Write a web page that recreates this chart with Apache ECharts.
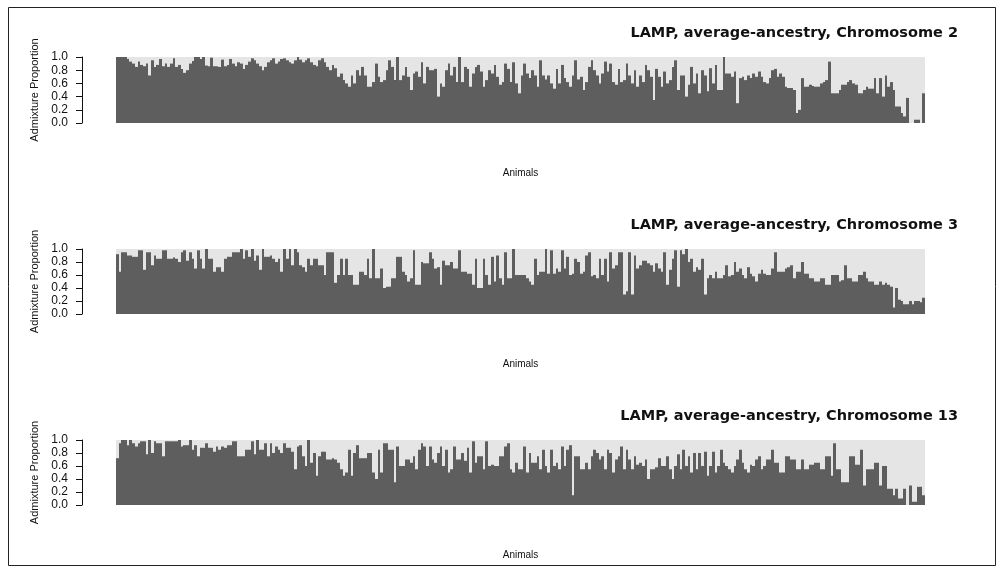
<!DOCTYPE html>
<html>
<head>
<meta charset="utf-8">
<script src="https://cdn.jsdelivr.net/npm/echarts@6/dist/echarts.min.js"></script>
<style>
html,body{margin:0;padding:0;background:#fff;}
#chart{width:1003px;height:569px;}
</style>
</head>
<body>
<div id="chart"></div>
<script>
// ---- data ----
const panelTitles = [
  "LAMP, average-ancestry, Chromosome 2",
  "LAMP, average-ancestry, Chromosome 3",
  "LAMP, average-ancestry, Chromosome 13"
];
const yAxisName = "Admixture Proportion";
const xAxisName = "Animals";
const yTicks = [0.0, 0.2, 0.4, 0.6, 0.8, 1.0];

const chr2 = [
1.0,1.0,1.0,1.0,0.97,0.93,0.9,0.85,0.93,0.88,
0.86,0.9,0.72,0.95,0.85,0.88,0.97,0.86,0.9,0.85,
0.9,0.98,0.85,0.88,0.82,0.76,0.8,0.9,0.94,1.0,
1.0,0.97,1.0,0.87,0.86,0.99,0.86,0.86,0.85,0.96,
0.86,0.88,0.97,0.9,0.86,0.92,0.9,0.82,0.88,0.93,
0.98,0.95,0.9,0.86,0.8,0.85,0.92,0.95,0.98,0.9,
0.93,0.97,0.98,0.95,0.92,0.9,0.95,1.0,0.96,0.92,
0.95,0.98,0.92,0.88,0.86,0.95,0.98,0.92,0.85,0.8,
0.88,0.83,0.7,0.75,0.65,0.6,0.55,0.72,0.6,0.8,
0.72,0.85,0.72,0.55,0.55,0.62,0.9,0.7,0.62,0.65,
0.8,0.95,0.85,0.65,1.0,0.65,0.72,0.85,0.7,0.5,
0.75,0.78,0.7,0.92,0.6,0.85,0.8,0.8,0.82,0.4,
0.6,0.55,0.8,0.9,0.72,0.85,0.62,1.0,0.62,0.85,
0.82,0.55,0.75,0.85,0.88,0.78,0.55,0.65,0.8,0.75,
0.88,0.7,0.58,0.62,0.9,0.82,0.62,0.92,0.6,0.45,
0.72,0.9,0.75,0.68,0.8,0.72,0.55,0.95,0.72,0.66,
0.72,0.6,0.52,0.82,0.6,0.88,0.68,0.62,0.55,0.72,
0.95,0.66,0.7,0.5,0.62,0.85,0.95,0.8,0.72,0.6,
0.75,0.93,0.78,0.9,0.62,0.58,0.82,0.62,0.65,0.9,
0.72,0.6,0.8,0.55,0.72,0.62,0.88,0.8,0.7,0.35,
0.82,0.7,0.55,0.78,0.6,0.65,0.85,0.95,0.5,0.72,
0.72,0.4,0.58,0.85,0.6,0.75,0.45,0.8,0.72,0.48,
0.83,0.6,0.88,0.5,0.5,1.0,0.75,0.75,0.7,0.78,
0.3,0.68,0.7,0.65,0.72,0.68,0.75,0.7,0.78,0.7,
0.62,0.6,0.68,0.8,0.82,0.7,0.75,0.7,0.55,0.53,
0.53,0.5,0.15,0.2,0.68,0.55,0.55,0.58,0.56,0.55,
0.55,0.6,0.62,0.65,0.93,0.45,0.45,0.45,0.5,0.58,
0.58,0.62,0.65,0.6,0.58,0.45,0.45,0.5,0.55,0.52,
0.52,0.68,0.45,0.68,0.4,0.72,0.55,0.62,0.5,0.25,
0.25,0.15,0.1,0.38,0.0,0.0,0.05,0.05,0.0,0.45
];

const chr3 = [
0.92,0.65,0.95,0.95,0.9,0.9,0.88,0.88,0.98,0.98,
0.68,0.95,0.95,0.75,0.9,0.85,0.85,0.98,0.98,0.85,
0.85,0.87,0.85,0.8,0.95,0.98,0.82,0.95,0.85,0.7,
0.98,0.85,0.7,1.0,0.85,0.85,0.65,0.72,0.72,0.65,
0.85,0.88,0.88,0.95,0.95,0.95,1.0,0.85,0.98,0.88,
1.0,0.82,0.9,0.68,1.0,0.88,0.88,0.9,0.85,0.8,
0.85,0.65,1.0,0.85,1.0,0.75,1.0,0.95,0.75,0.72,
0.65,0.85,0.75,0.85,0.85,0.75,0.75,0.6,0.95,0.95,
0.95,0.48,0.6,0.85,0.6,0.85,0.6,0.6,0.45,0.45,
0.65,0.65,0.6,0.85,0.55,1.0,0.55,0.55,0.7,0.4,
0.42,0.42,0.55,0.55,0.88,0.88,0.65,0.6,0.5,0.55,
0.98,0.45,0.45,0.8,0.78,0.78,0.95,0.85,0.7,0.72,
0.45,0.82,0.75,0.75,0.8,0.7,0.7,0.98,0.65,0.65,
0.62,0.62,0.45,0.85,0.4,0.4,0.85,0.6,0.45,0.88,
0.5,0.9,0.55,0.45,0.95,0.55,0.55,1.0,0.6,0.6,
0.6,0.6,0.55,0.5,0.45,0.85,0.6,0.65,0.65,1.0,
0.62,0.98,0.62,0.7,0.65,0.98,0.7,0.88,0.6,0.62,
0.85,0.8,0.62,0.65,0.9,0.95,0.58,0.6,0.55,0.85,
0.6,0.85,0.5,0.95,0.7,0.75,0.95,0.95,0.3,0.35,
0.95,0.3,0.9,0.7,0.75,0.82,0.82,0.78,0.75,0.65,
0.78,0.7,0.65,0.95,0.45,0.68,0.85,0.98,0.42,0.98,
0.92,1.0,0.8,0.85,0.65,0.72,0.68,0.85,0.3,0.55,
0.6,0.55,0.65,0.55,0.55,0.6,0.75,0.58,0.6,0.8,
0.65,0.7,0.6,0.55,0.72,0.62,0.58,0.5,0.62,0.68,
0.62,0.6,0.6,0.7,0.95,0.65,0.65,0.65,0.7,0.72,
0.75,0.55,0.65,0.65,0.8,0.62,0.62,0.55,0.55,0.5,
0.5,0.55,0.55,0.45,0.45,0.6,0.6,0.6,0.5,0.52,
0.75,0.55,0.55,0.5,0.5,0.6,0.6,0.65,0.55,0.5,
0.5,0.45,0.45,0.5,0.45,0.48,0.45,0.42,0.1,0.4,
0.22,0.2,0.15,0.15,0.2,0.15,0.2,0.2,0.18,0.25
];

const chr13 = [
0.72,0.95,1.0,1.0,0.92,1.0,0.95,0.9,0.95,0.98,
0.98,0.78,1.0,0.8,0.98,0.95,0.95,0.75,0.98,0.98,
0.98,0.98,0.98,1.0,0.9,0.92,0.92,1.0,0.85,0.92,
0.75,0.88,0.88,0.95,0.88,0.88,0.82,0.9,0.85,0.9,
0.88,0.92,0.92,0.98,0.98,0.75,0.75,0.75,0.85,0.85,
0.98,0.78,1.0,0.85,0.85,0.95,0.75,0.95,0.8,0.9,
0.85,0.8,0.95,0.88,0.88,0.82,0.55,0.9,0.92,0.75,
0.6,1.0,0.65,0.8,0.45,0.75,0.82,0.82,0.7,0.7,
0.72,0.7,0.65,0.55,0.45,0.5,0.85,0.45,0.8,0.92,
0.72,0.72,0.72,0.8,0.8,0.5,0.4,0.85,0.5,0.95,
0.95,0.85,0.85,0.35,0.9,0.6,0.6,0.7,0.7,0.65,
0.75,0.55,0.85,0.95,0.9,0.6,0.9,0.7,0.65,0.8,
0.9,0.6,0.85,0.5,0.55,0.9,0.7,0.7,0.8,0.68,
0.88,0.5,0.98,0.65,0.75,0.75,0.55,0.98,0.6,0.62,
0.6,0.6,0.75,0.75,0.9,0.95,0.55,0.5,0.65,0.55,
0.55,0.9,0.5,0.8,0.65,0.65,0.75,0.55,0.85,0.6,
0.5,0.85,0.6,0.65,0.55,0.9,0.6,0.85,0.92,0.15,
0.75,0.75,0.55,0.55,0.65,0.55,0.75,0.85,0.8,0.7,
0.75,0.55,0.85,0.8,0.5,0.7,0.75,0.9,0.55,0.85,
0.7,0.55,0.75,0.62,0.65,0.6,0.7,0.4,0.55,0.55,
0.58,0.72,0.6,0.6,0.75,0.55,0.4,0.6,0.78,0.55,
0.85,0.6,0.75,0.5,0.8,0.55,0.8,0.6,0.82,0.45,
0.6,0.82,0.5,0.6,0.85,0.65,0.6,0.55,0.5,0.6,
0.7,0.85,0.65,0.55,0.5,0.62,0.6,0.7,0.75,0.55,
0.6,0.7,0.7,0.85,0.65,0.65,0.5,0.5,0.75,0.75,
0.7,0.7,0.55,0.55,0.7,0.55,0.55,0.62,0.62,0.65,
0.65,0.55,0.55,0.75,0.75,0.45,0.95,0.55,0.55,0.35,
0.35,0.35,0.75,0.75,0.62,0.62,0.85,0.3,0.55,0.55,
0.55,0.65,0.65,0.3,0.6,0.6,0.25,0.25,0.15,0.25,
0.1,0.1,0.25,0.0,0.3,0.05,0.05,0.28,0.28,0.15
];

const panels = [chr2, chr3, chr13];

// ---- layout / style ----
const DARK = "#5e5e5e";
const LIGHT = "#e5e5e5";
const gridTops = [57, 249, 440];
const gridHeights = [66, 65, 65];
const titleTops = [21, 213, 404];

const chart = echarts.init(document.getElementById("chart"), null, {renderer: "canvas"});

// contiguous bars: edges snapped to whole pixels via the axis scale
function renderBar(params, api) {
  const idx = api.value(0);
  const v = api.value(1);
  const base = api.coord([idx, 0]);
  const top = api.coord([idx, v]);
  const w = api.size([1, 0])[0];
  const x0 = Math.round(base[0] - w / 2);
  const x1 = Math.round(base[0] + w / 2);
  return {
    type: "rect",
    shape: {x: x0, y: top[1], width: x1 - x0, height: base[1] - top[1]},
    style: {fill: DARK}
  };
}

const grids = [], xAxes = [], yAxes = [], series = [], titles = [];
panels.forEach((vals, i) => {
  grids.push({left: 116, right: 78, top: gridTops[i], height: gridHeights[i], containLabel: false,
    show: true, backgroundColor: LIGHT, borderWidth: 0});
  xAxes.push({
    type: "category", gridIndex: i,
    data: vals.map((_, k) => String(k + 1)),
    axisLine: {show: false}, axisTick: {show: false}, axisLabel: {show: false},
    name: xAxisName, nameLocation: "middle", nameGap: 45,
    nameTextStyle: {fontFamily: "Liberation Sans", fontSize: 10, color: "#111"}
  });
  yAxes.push({
    type: "value", gridIndex: i, min: 0, max: 1, interval: 0.2, offset: 34,
    axisLine: {show: true, lineStyle: {color: "#111", width: 1}},
    axisTick: {show: true, length: 6, lineStyle: {color: "#111"}},
    axisLabel: {margin: 14, fontFamily: "Liberation Sans", fontSize: 12, color: "#111",
      formatter: v => v.toFixed(1)},
    splitLine: {show: false},
    name: yAxisName, nameLocation: "middle", nameGap: 40,
    nameTextStyle: {fontFamily: "Liberation Sans Narrow, Liberation Sans", fontSize: 11, color: "#111"}
  });
  series.push({
    type: "custom", xAxisIndex: i, yAxisIndex: i,
    data: vals.map((v, k) => [k, v]),
    encode: {x: 0, y: 1},
    renderItem: renderBar,
    silent: true, animation: false
  });
  titles.push({
    text: panelTitles[i], right: 40, top: titleTops[i],
    textStyle: {fontFamily: "DejaVu Sans", fontWeight: "bold", fontSize: 14.5, color: "#111"}
  });
});

chart.setOption({
  animation: false,
  backgroundColor: "#fff",
  title: titles,
  grid: grids,
  xAxis: xAxes,
  yAxis: yAxes,
  series: series,
  graphic: [{
    type: "rect", silent: true,
    shape: {x: 8.5, y: 7.5, width: 987, height: 558},
    style: {fill: "none", stroke: "#222", lineWidth: 1}
  }]
});
</script>
</body>
</html>
